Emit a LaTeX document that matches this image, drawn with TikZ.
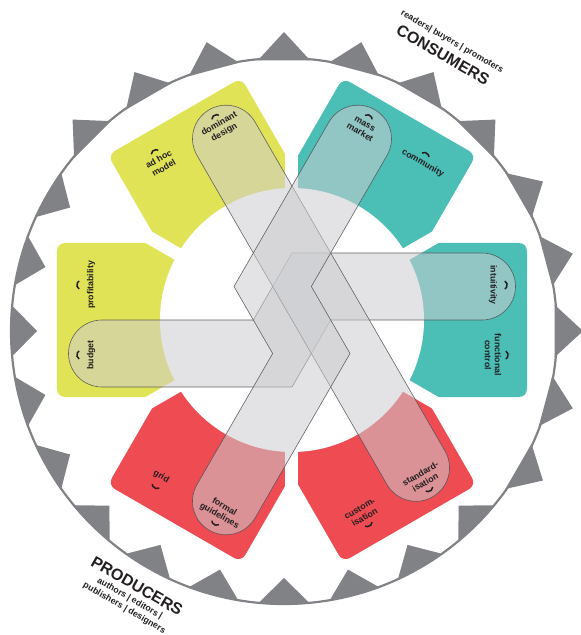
\documentclass[tikz,border=0pt]{standalone}
\definecolor{PetYellow}{RGB}{224,227,86}
\definecolor{PetTeal}{RGB}{75,191,182}
\definecolor{PetRed}{RGB}{239,75,83}
\definecolor{GearGray}{RGB}{128,130,133}
\definecolor{PillFill}{RGB}{204,205,208}
\definecolor{PillLine}{RGB}{77,77,79}
\definecolor{InkBlack}{RGB}{35,31,32}
\usepackage{fontspec}
\setmainfont{Liberation Sans}
\usepackage{tikz}
\usetikzlibrary{calc}

\tikzset{
  pill/.style={fill=PillFill, fill opacity=0.55, draw=PillLine, draw opacity=0.85, line width=0.6pt},
  petlabel/.style={font=\bfseries\fontsize{8.8}{10}\selectfont, text=InkBlack, align=center, inner sep=0pt},
  sidelabel/.style={font=\bfseries\fontsize{8.8}{11}\selectfont, text=InkBlack, align=center, inner sep=0pt, rotate=-30},
  biglabel/.style={font=\bfseries\fontsize{16}{18}\selectfont, text=InkBlack, inner sep=0pt, rotate=-30},
  hat/.pic={\draw[InkBlack, line width=1.5pt] (-4,-1.15) arc[start angle=150,end angle=30,radius=4.62];}
}

\begin{document}
\begin{tikzpicture}[x=1pt, y=1pt]
\useasboundingbox (-292,-315) rectangle (289,320);

\coordinate (gearc) at (-8,-11);
\draw[GearGray, line width=2.2pt] (gearc) circle[radius=273];
\foreach \a in {-30,-15,...,135}
  \fill[GearGray, shift={(gearc)}] (\a-5.5:272) -- (\a:299) -- (\a+5.5:272) -- cycle;
\foreach \a in {150,165,...,315}
  \fill[GearGray, shift={(gearc)}] (\a-5.5:274) -- (\a:247) -- (\a+5.5:274) -- cycle;

\foreach \ang/\col in {180/PetYellow,120/PetYellow,60/PetTeal,0/PetTeal,-60/PetRed,-120/PetRed}{
  \begin{scope}[rotate=\ang]
    \clip (0,0) -- (-30:320) -- (30:320) -- cycle;
    \fill[\col, rounded corners=8pt] (40,-77) rectangle (235,77);
  \end{scope}
}
\foreach \ang in {30,90,...,330}
  \draw[white, line width=13pt] (0,0) -- (\ang:175);
\fill[white] (0,0) circle[radius=132];

\draw[pill] (-190,0) -- (-38.7,0) -- (0,67) -- (190,67) arc[start angle=90,end angle=-90,radius=33.5]
  -- (38.7,0) -- (0,-67) -- (-190,-67) arc[start angle=270,end angle=90,radius=33.5] -- cycle;
\draw[pill, rotate=120] (-190,0) -- (190,0) arc[start angle=90,end angle=-90,radius=33.5]
  -- (-190,-67) arc[start angle=270,end angle=90,radius=33.5] -- cycle;
\draw[pill, rotate=60] (-190,0) -- (-38.7,0) -- (0,67) -- (190,67) arc[start angle=90,end angle=-90,radius=33.5]
  -- (38.7,0) -- (0,-67) -- (-190,-67) arc[start angle=270,end angle=90,radius=33.5] -- cycle;

\node[petlabel, rotate=90] (profit) at (-201,35) {profitability};
\node[petlabel, rotate=90] (budget) at (-201,-35) {budget};
\node[petlabel, rotate=30] (adhoc) at (-130.8,156.6) {ad hoc\\model};
\node[petlabel, rotate=30] (dominant) at (-70.2,191.6) {dominant\\design};
\node[petlabel, rotate=-30] (massmkt) at (70.2,191.6) {mass\\market};
\node[petlabel, rotate=-30] (community) at (130.8,156.6) {community};
\node[petlabel, rotate=-90] (intuit) at (201,35) {intuitivity};
\node[petlabel, rotate=-90] (funct) at (201,-35) {functional\\control};
\node[petlabel, rotate=30] (standard) at (130.8,-158) {standard-\\isation};
\node[petlabel, rotate=30] (custom) at (70.2,-193) {custom-\\isation};
\node[petlabel, rotate=-30] (formal) at (-70.2,-191.6) {formal\\guidelines};
\node[petlabel, rotate=-30] (grid) at (-130.8,-156.6) {grid};

\path (-214,35) pic[rotate=90] {hat};
\path (-214,-35) pic[rotate=90] {hat};
\path (-137.8,168.7) pic[rotate=30] {hat};
\path (-77.2,203.7) pic[rotate=30] {hat};
\path (77.2,203.7) pic[rotate=-30] {hat};
\path (134,166) pic[rotate=-30] {hat};
\path (214,35) pic[rotate=-90] {hat};
\path (215,-35) pic[rotate=-90] {hat};
\path (137.8,-170) pic[rotate=210] {hat};
\path (77.2,-205) pic[rotate=210] {hat};
\path (-77.2,-203.7) pic[rotate=150] {hat};
\path (-136.8,-167) pic[rotate=150] {hat};

\node[biglabel] (consumers) at (151,265) {CONSUMERS};
\node[sidelabel] (consumersub) at (160,278) {readers| buyers | promoters};
\node[biglabel] (producers) at (-155,-266) {PRODUCERS};
\node[sidelabel] (producersub) at (-165,-283.5) {authors | editors |\\publishers | designers};
\end{tikzpicture}
\end{document}
